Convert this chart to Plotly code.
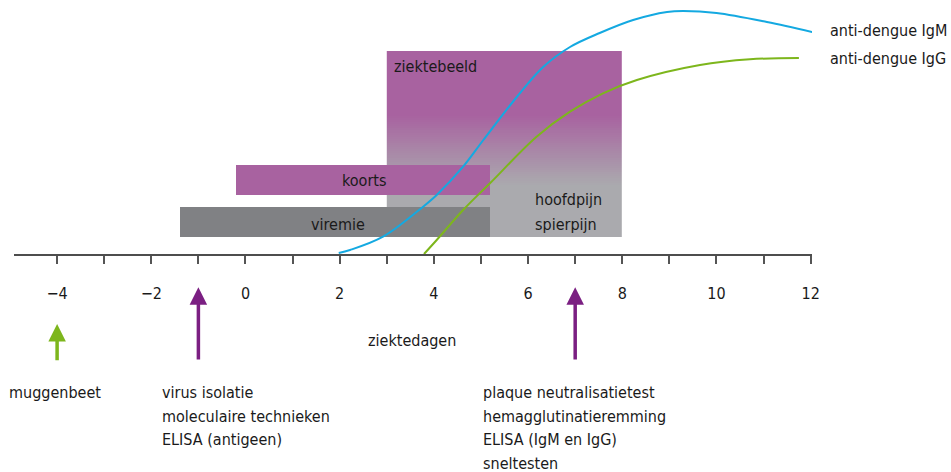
import numpy as np
import plotly.graph_objects as go

# ---------------- data ----------------
tick_days = list(range(-4, 13))
tick_text = ["−4", "", "−2", "", "0", "", "2", "", "4", "", "6", "", "8", "", "10", "", "12"]

# phases (day start, day end)
ziektebeeld_days = [3.0, 8.0]
koorts_days = [-0.2, 5.2]
viremie_days = [-1.4, 5.2]

# antibody curves (day, relative level)
igm_day = [1.98, 2.22, 2.92, 3.77, 4.06, 4.62, 5.05, 5.76, 6.32, 6.89, 7.52, 8.23, 8.95, 9.29, 10.0, 11.07, 12.03]
igm_val = [1.7, 4.7, 18, 48, 59.7, 88, 114.7, 157.7, 187.7, 207.7, 221.7, 234.7, 242.7, 243.7, 241.7, 232.7, 222.7]
igg_day = [3.79, 4.06, 4.62, 5.19, 6.18, 6.89, 7.59, 8.31, 9.65, 10.71, 11.75]
igg_val = [0.7, 14.7, 44.7, 71.4, 118, 143, 161.4, 174.7, 189.7, 195.4, 196.7]

# test moments (day)
muggenbeet_day = -4
antigen_day = -1
antibody_day = 7

# ---------------- style / layout constants ----------------
FONT = "DejaVu Sans Condensed, Liberation Sans Narrow, sans-serif"
FS = 16
W, H = 951, 472
PURPLE = "#a862a0"
LGREY = "#aaaaae"
DGREY = "#808184"
CYAN = "#14a9e1"
GREEN = "#7db61c"
ARROW_PURPLE = "#7b1f82"
TXT = "#1a1a1a"

fig = go.Figure()

# ziektebeeld gradient block (purple -> grey)
yb = np.linspace(18, 203.7, 90)
zc = (yb[:-1] + yb[1:]) / 2
fig.add_trace(go.Heatmap(
    x=[ziektebeeld_days[0], ziektebeeld_days[1]],
    y=yb,
    z=[[v] for v in zc],
    zmin=18, zmax=203.7,
    colorscale=[[0, LGREY], [0.278, LGREY], [0.655, PURPLE], [1, PURPLE]],
    showscale=False, hoverinfo="skip",
))

# bars
fig.add_trace(go.Bar(
    orientation="h",
    y=[75, 33],
    base=[koorts_days[0], viremie_days[0]],
    x=[koorts_days[1] - koorts_days[0], viremie_days[1] - viremie_days[0]],
    width=[29.7, 30],
    marker=dict(color=[PURPLE, DGREY], line=dict(width=0)),
    hoverinfo="skip",
))

# curves
fig.add_trace(go.Scatter(x=igm_day, y=igm_val, mode="lines",
                         line=dict(color=CYAN, width=2, shape="spline", smoothing=1.0),
                         hoverinfo="skip"))
fig.add_trace(go.Scatter(x=igg_day, y=igg_val, mode="lines",
                         line=dict(color=GREEN, width=2, shape="spline", smoothing=1.0),
                         hoverinfo="skip"))

annotations = []

def txt(x, y, s, anchor="left", xref="x"):
    annotations.append(dict(x=x, y=y, xref=xref, yref="y", text=s, showarrow=False,
                            xanchor=anchor, yanchor="middle", borderpad=0,
                            font=dict(family=FONT, size=FS, color=TXT)))

txt(3.13, 188, "ziektebeeld")
txt(2.516, 74.7, "koorts", "center")
txt(1.964, 30.7, "viremie", "center")
txt(6.13, 55.7, "hoofdpijn")
txt(6.13, 30.7, "spierpijn")
txt(829 / W, 224.7, "anti-dengue IgM", xref="paper")
txt(829 / W, 196.7, "anti-dengue IgG", xref="paper")
txt(3.535, -85.3, "ziektedagen", "center")
txt(8 / W, -138, "muggenbeet", xref="paper")
for i, s in enumerate(["virus isolatie", "moleculaire technieken", "ELISA (antigeen)"]):
    txt(-1.79, -138 - 23.5 * i, s)
for i, s in enumerate(["plaque neutralisatietest", "hemagglutinatieremming", "ELISA (IgM en IgG)", "sneltesten"]):
    txt(5.02, -138 - 23.5 * i, s)

def arrow(xd, tip, tail, color):
    annotations.append(dict(x=xd, y=tip, ax=xd, ay=tail, xref="x", yref="y",
                            axref="x", ayref="y", text="", showarrow=True,
                            arrowhead=2, arrowsize=1.0, arrowwidth=3.5, arrowcolor=color,
                            standoff=0, startstandoff=0))

arrow(muggenbeet_day, -69.3, -107, GREEN)
arrow(antigen_day, -32.6, -106.3, ARROW_PURPLE)
arrow(antibody_day, -32.6, -106.3, ARROW_PURPLE)

fig.update_layout(
    width=W, height=H,
    margin=dict(l=0, r=0, t=0, b=0, autoexpand=False),
    paper_bgcolor="white", plot_bgcolor="rgba(0,0,0,0)",
    showlegend=False,
    bargap=0,
    annotations=annotations,
    xaxis=dict(
        domain=[14 / W, 812 / W],
        range=[-4.915, 12.028],
        anchor="free", position=1 - 254.7 / H,
        automargin=False,
        showgrid=False, zeroline=False,
        showline=True, linecolor="#4d4d4d", linewidth=2,
        ticks="outside", ticklen=8, tickwidth=1.5, tickcolor="#555555",
        tickvals=tick_days, ticktext=tick_text,
        ticklabelstandoff=16,
        tickfont=dict(family=FONT, size=FS, color=TXT),
        fixedrange=True,
    ),
    yaxis=dict(
        domain=[0, 1], range=[-217.3, 254.7], visible=False, fixedrange=True,
        automargin=False,
    ),
)

fig.write_html("out.html", config={"displayModeBar": False},
               post_script="document.body.style.margin='0';document.body.style.overflow='hidden';")
